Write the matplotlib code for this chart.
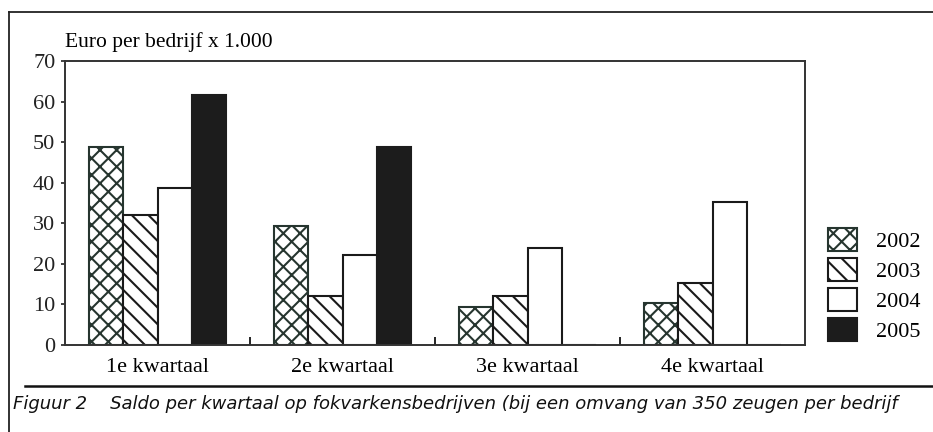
import matplotlib.pyplot as plt
import numpy as np
from matplotlib.patches import Patch
from matplotlib.lines import Line2D

plt.rcParams['hatch.linewidth'] = 1.5

# data
kwartalen = ['1e kwartaal', '2e kwartaal', '3e kwartaal', '4e kwartaal']
jaren = ['2002', '2003', '2004', '2005']
saldo_2002 = [48.8, 29.3, 9.4, 10.4]
saldo_2003 = [32.0, 12.2, 12.2, 15.3]
saldo_2004 = [38.7, 22.3, 24.0, 35.3]
saldo_2005 = [61.7, 48.9, 0, 0]

series = [saldo_2002, saldo_2003, saldo_2004, saldo_2005]
styles = [
    dict(facecolor='white', hatch='xx', edgecolor='#26352f'),
    dict(facecolor='white', hatch='\\\\', edgecolor='#1a1a1a'),
    dict(facecolor='white', hatch='', edgecolor='#1a1a1a'),
    dict(facecolor='#1c1c1c', hatch='', edgecolor='#1c1c1c'),
]

serif = 'Liberation Serif'

fig = plt.figure(figsize=(9.33, 4.32), dpi=100)
ax = fig.add_axes([65/933, 1 - 345/432, 740/933, 284/432])

x = np.arange(len(kwartalen))
w = 0.184
for i, (vals, st) in enumerate(zip(series, styles)):
    ax.bar(x + (i - 1.5) * w, vals, w, linewidth=1.5, **st)

ax.set_xlim(-0.5, 3.5)
ax.set_ylim(0, 70)
ax.set_yticks(range(0, 71, 10))
ax.set_yticklabels([str(v) for v in range(0, 71, 10)], fontfamily=serif, fontsize=16)
ax.set_xticks(x)
ax.set_xticklabels(kwartalen, fontfamily=serif, fontsize=16)
ax.tick_params(axis='x', length=0, pad=9)
ax.tick_params(axis='y', length=3, width=1.2, pad=4, colors='#222222')
# category separators on the x axis
ax.set_xticks([0.5, 1.5, 2.5], minor=True)
ax.tick_params(axis='x', which='minor', direction='in', length=6, width=1.2)
for s in ax.spines.values():
    s.set_linewidth(1.4)
    s.set_color('#333333')

fig.text(65/933, 1 - 42/432, 'Euro per bedrijf x 1.000', fontfamily=serif,
         fontsize=15.5, va='center', ha='left')

# legend
handles = [Patch(linewidth=1.5, **st) for st in styles]
ax.legend(handles, jaren, loc='center left', bbox_to_anchor=(1.031, 0.211),
          bbox_transform=ax.transAxes, frameon=False, prop=dict(family=serif, size=16),
          handlelength=1.3, handleheight=1.2, handletextpad=0.86,
          labelspacing=0.27, borderaxespad=0, borderpad=0)

# frame lines and caption
fig.add_artist(Line2D([9/933, 1], [1 - 12/432, 1 - 12/432], color='#222222', lw=1.3))
fig.add_artist(Line2D([9/933, 9/933], [0, 1 - 12/432], color='#222222', lw=1.3))
fig.add_artist(Line2D([25/933, 1], [1 - 386/432, 1 - 386/432], color='#111111', lw=1.8))
fig.text(13/933, 1 - 404/432,
         'Figuur 2    Saldo per kwartaal op fokvarkensbedrijven (bij een omvang van 350 zeugen per bedrijf',
         fontfamily='DejaVu Sans', style='italic', fontsize=13, va='center', ha='left',
         color='#111111')

fig.savefig('out.png', dpi=100)
